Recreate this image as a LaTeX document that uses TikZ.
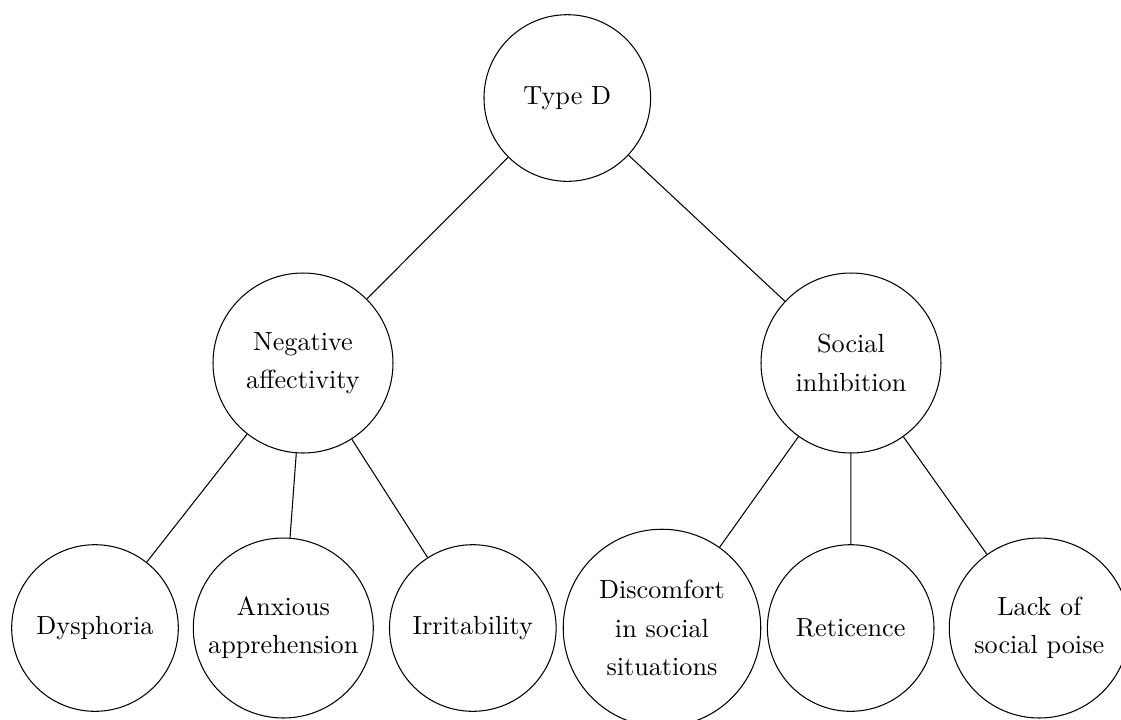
\documentclass[tikz,border=0pt]{standalone}
\begin{document}
\begin{tikzpicture}[x=0.3817pt, y=-0.3817pt,
  every node/.style={circle, draw, inner sep=0pt, align=center,
    font={\fontsize{10pt}{14.6pt}\selectfont}},
  small/.style={minimum size=63.6pt},
  medium/.style={minimum size=68.7pt},
  large/.style={minimum size=75.4pt}]
  \clip (0,0) rectangle (1121,719);
  \useasboundingbox (0,0) rectangle (1121,719);

  % root
  \node[small] (root) at (567.3,98) {Type D};

  % second level
  \node[medium] (neg) at (303,363) {Negative\\affectivity};
  \node[medium] (soc) at (851,363) {Social\\inhibition};

  % leaves under negative affectivity
  \node[small]  (dys) at (95,628)    {Dysphoria};
  \node[medium] (anx) at (283.3,628) {Anxious\\apprehension};
  \node[small]  (irr) at (472.8,628) {Irritability};

  % leaves under social inhibition
  \node[large]  (dis) at (662,628)    {Discomfort\\in social\\situations};
  \node[small]  (ret) at (850.7,628)  {Reticence};
  \node[medium] (lac) at (1039.3,628) {Lack of\\social poise};

  % edges
  \draw (root) -- (neg);
  \draw (root) -- (soc);
  \draw (neg) -- (dys);
  \draw (neg) -- (anx);
  \draw (neg) -- (irr);
  \draw (soc) -- (dis);
  \draw (soc) -- (ret);
  \draw (soc) -- (lac);
\end{tikzpicture}
\end{document}
